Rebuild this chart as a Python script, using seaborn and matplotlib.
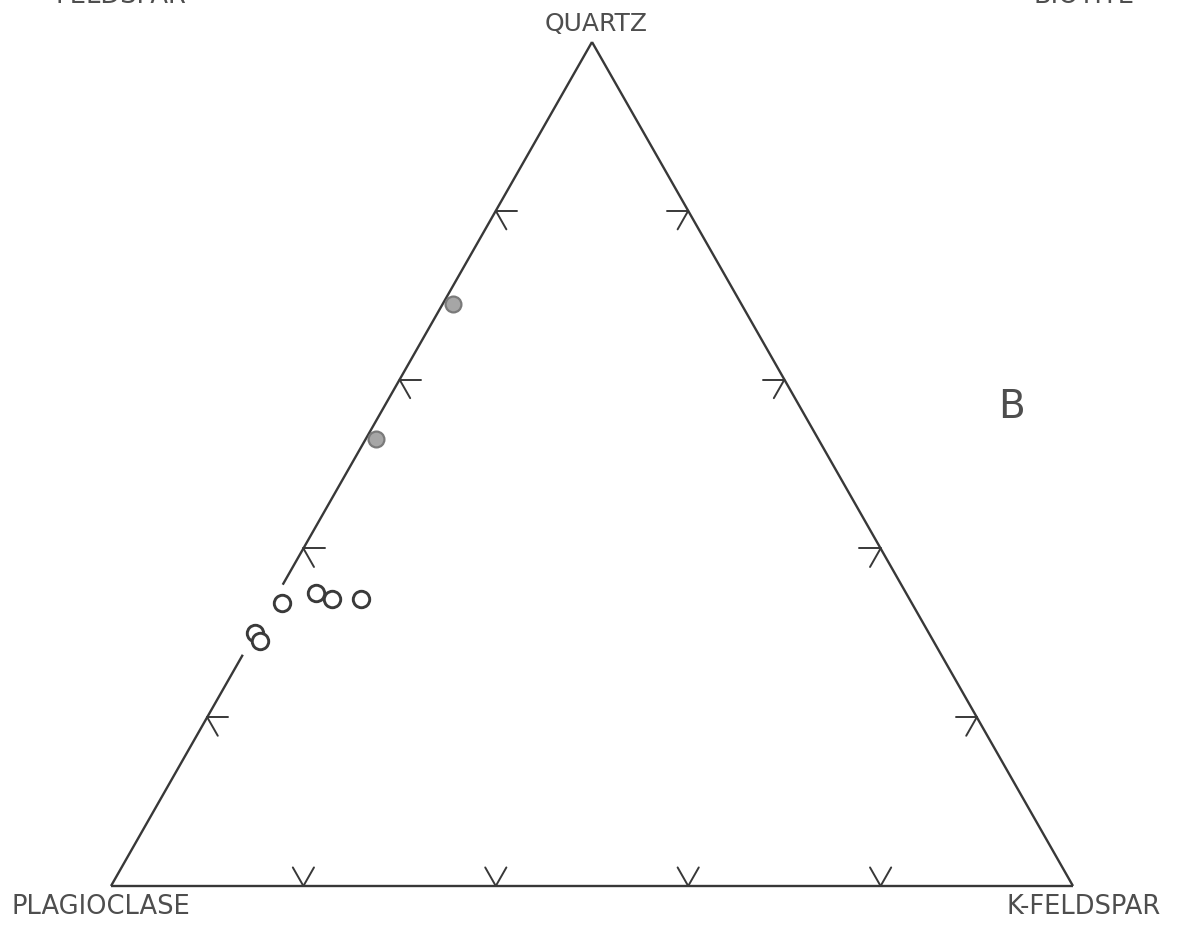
import matplotlib
matplotlib.use("Agg")
import matplotlib.pyplot as plt
import seaborn as sns
import pandas as pd
import numpy as np

# Modal compositions (percent) of quartz, plagioclase and K-feldspar
quartz      = [69, 53, 33.5, 34.7, 34, 34, 30, 29]
plagioclase = [30, 46, 65.5, 61.3, 60, 57, 70, 70]
kfeldspar   = [1, 1, 1, 4, 6, 9, 0, 1]
sample_type = ["filled", "filled", "open", "open", "open", "open", "open", "open"]

corner_labels = ["PLAGIOCLASE", "K-FELDSPAR", "QUARTZ"]
tick_fractions = [0.2, 0.4, 0.6, 0.8]

W, H, DPI = 1182, 926, 100
sns.set_theme(style="white")
plt.rcParams["font.family"] = ["DejaVu Sans"]

fig = plt.figure(figsize=(W / DPI, H / DPI), dpi=DPI)
ax = fig.add_axes([0, 0, 1, 1])
ax.set_axis_off()

# Pixel placement of the triangle: base from x=111 to x=1073 at y=886, apex at y=42
x0, base_w = 111, 962
y_base, tri_h = 886, 844
ax.set_xlim(-x0 / base_w, (W - x0) / base_w)
ax.set_ylim((y_base - H) / tri_h, y_base / tri_h)


def to_xy(q, k):
    """Ternary (quartz, K-feldspar) fractions -> cartesian, plagioclase at origin."""
    q = np.asarray(q, dtype=float)
    k = np.asarray(k, dtype=float)
    return k + q / 2.0, q


line_kw = dict(color="#383838", lw=1.7, solid_capstyle="butt")

# Triangle edges; the plagioclase-quartz side is broken where samples sit on it
bx, by = to_xy([0, 0], [0, 1])
ax.plot(bx, by, **line_kw)
rx, ry = to_xy([0, 1], [1, 0])
ax.plot(rx, ry, **line_kw)
lx, ly = to_xy([0, 0.274], [0, 0])
ax.plot(lx, ly, **line_kw)
lx, ly = to_xy([0.357, 1], [0, 0])
ax.plot(lx, ly, **line_kw)

# 20 % grid ticks drawn as short stubs pointing into the triangle
t = 0.022
tick_kw = dict(color="#383838", lw=1.4)
for f in tick_fractions:
    # left side (Q = f, K = 0): along constant Q and constant P
    px, py = to_xy(f, 0)
    ax.plot([px, px + t], [py, py], **tick_kw)
    ax.plot([px, px + t / 2], [py, py - t], **tick_kw)
    # right side (Q = f, P = 0)
    px, py = to_xy(f, 1 - f)
    ax.plot([px, px - t], [py, py], **tick_kw)
    ax.plot([px, px - t / 2], [py, py - t], **tick_kw)
    # base (Q = 0, K = f)
    px, py = to_xy(0, f)
    ax.plot([px, px - t / 2], [py, py + t], **tick_kw)
    ax.plot([px, px + t / 2], [py, py + t], **tick_kw)

# Sample points
xs, ys = to_xy(np.array(quartz) / 100, np.array(kfeldspar) / 100)
df = pd.DataFrame({"x": xs, "y": ys, "type": sample_type})
sns.scatterplot(data=df[df["type"] == "open"], x="x", y="y", ax=ax,
                s=140, facecolor="white", edgecolor="#3a3a3a", linewidth=2.1,
                legend=False, zorder=3)
sns.scatterplot(data=df[df["type"] == "filled"], x="x", y="y", ax=ax,
                s=130, facecolor="#a6a6a6", edgecolor="#7a7a7a", linewidth=1.6,
                legend=False, zorder=3)


def ftext(px, py, s, **kw):
    fig.text(px / W, 1 - py / H, s, color="#4e4e4e", **kw)


ftext(596, 24, corner_labels[2], fontsize=18, ha="center", va="center")
ftext(12, 907, corner_labels[0], fontsize=18.5, ha="left", va="center")
ftext(1161, 907, corner_labels[1], fontsize=18.5, ha="right", va="center")
ftext(1011, 407, "B", fontsize=28, ha="center", va="center")
ftext(55, 3, "FELDSPAR", fontsize=18.5, ha="left", va="baseline")
ftext(1033, 3, "BIOTITE", fontsize=18.5, ha="left", va="baseline")

fig.savefig("out.png", dpi=DPI, facecolor="white")
